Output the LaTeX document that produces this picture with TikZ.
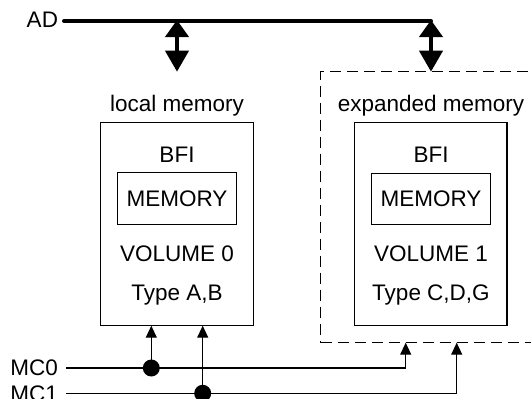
\documentclass[tikz,border=0pt]{standalone}
\usepackage{fontspec}
\setmainfont{Liberation Sans}
\usetikzlibrary{arrows.meta}
\begin{document}
\begin{tikzpicture}[x=1pt,y=-1pt,
  font=\fontsize{22.5}{26}\selectfont,
  box/.style={draw,line width=1.2pt,inner sep=0pt,outer sep=0pt},
  lbl/.style={inner sep=0pt,outer sep=0pt,anchor=base},
  dbl/.style={line width=4pt,{Triangle[width=23pt,length=17pt]}-{Triangle[width=23pt,length=21pt]}},
  wire/.style={line width=1.2pt},
  sig/.style={wire,-{Triangle[width=11pt,length=12pt]}},
  dot/.style={fill=black,circle,inner sep=0pt,minimum size=17pt}]
\useasboundingbox (0,0) rectangle (531,399);
% expanded region
\node[box,dash pattern=on 11pt off 6pt,minimum width=240pt,minimum height=271pt] (exp) at (440.7,207.2) {};
% memory boxes
\node[box,minimum width=152.3pt,minimum height=203pt] (lbox) at (177,224.2) {};
\node[box,minimum width=152.3pt,minimum height=203pt] (rbox) at (430.9,224.2) {};
\node[box,minimum width=119.4pt,minimum height=51.6pt] (lmem) at (177,198.5) {};
\node[box,minimum width=118.6pt,minimum height=51pt] (rmem) at (431,198.6) {};
% texts
\node[lbl] (ltitle) at (177,111.5) {local memory};
\node[lbl] (rtitle) at (431,111.5) {expanded memory};
\node[lbl] (lbfi) at (177,162.7) {BFI};
\node[lbl] (rbfi) at (431,162.7) {BFI};
\node[lbl] (lmt) at (177,206.5) {MEMORY};
\node[lbl] (rmt) at (431,206.5) {MEMORY};
\node[lbl] (lvol) at (177,261) {VOLUME 0};
\node[lbl] (rvol) at (431,261) {VOLUME 1};
\node[lbl] (ltype) at (177,300.5) {Type A,B};
\node[lbl] (rtype) at (431,300.5) {Type C,D,G};
% bus
\node[inner sep=0pt,outer sep=0pt,anchor=east] (ad) at (58,20) {AD};
\coordinate (bs) at (64,21);
\coordinate (b1) at (177,21);
\coordinate (b2) at (431,21);
\draw[line width=4pt,line cap=round] (bs) -- (b2);
\draw[dbl] ([yshift=1pt]b1) -- (b1 |- exp.north);
\draw[dbl] ([yshift=1pt]b2) -- (b2 |- exp.north);
% control lines
\node[inner sep=0pt,outer sep=0pt,anchor=east] (mc0) at (58,368) {MC0};
\node[inner sep=0pt,outer sep=0pt,anchor=east] (mc1) at (58,393.3) {MC1};
\coordinate (m0) at (66,368);
\coordinate (m1) at (66,393.3);
\coordinate (e0) at (405.7,368);
\coordinate (e1) at (456.7,393.3);
\node[dot] (d0) at (151.3,368) {};
\node[dot] (d1) at (202.7,393.3) {};
\draw[wire] (m0) -- (d0.center) -- (e0);
\draw[sig] (e0) -- (e0 |- exp.south);
\draw[wire] (m1) -- (d1.center) -- (e1);
\draw[sig] (e1) -- (e1 |- exp.south);
\draw[sig] (d0.center) -- (d0.center |- lbox.south);
\draw[sig] (d1.center) -- (d1.center |- lbox.south);
\end{tikzpicture}
\end{document}
